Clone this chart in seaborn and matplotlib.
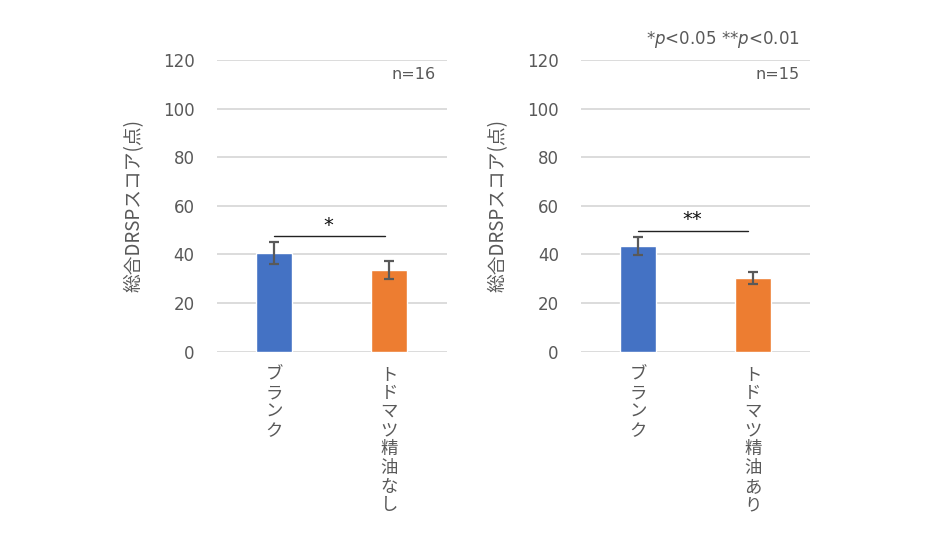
import matplotlib
matplotlib.use("Agg")
import matplotlib.pyplot as plt
import seaborn as sns
import pandas as pd

sns.set_theme(style="white")
plt.rcParams['font.family'] = ['Noto Sans CJK JP', 'DejaVu Sans']

categories_left = ["ブランク", "トドマツ精油なし"]
means_left = [40.5, 33.6]
err_left = [4.6, 3.8]
n_left = "n=16"

categories_right = ["ブランク", "トドマツ精油あり"]
means_right = [43.5, 30.3]
err_right = [3.7, 2.3]
n_right = "n=15"

sig_left = "*"
sig_right = "**"
sig_y_left = 47.6
sig_y_right = 49.8

colors = ["#4472C4", "#ED7D31"]
ylabel = "総合DRSPスコア(点)"
yticks = [0, 20, 40, 60, 80, 100, 120]
gray = "#595959"
num_font = ["DejaVu Sans"]

fig = plt.figure(figsize=(9.52, 5.33), dpi=100)
ax1 = fig.add_axes([0.2276, 0.3402, 0.2416, 0.5472])
ax2 = fig.add_axes([0.6103, 0.3402, 0.2405, 0.5472])


def draw(ax, cats, means, errs, ntext, sig, sig_y):
    df = pd.DataFrame({"cat": cats, "val": means})
    sns.barplot(data=df, x="cat", y="val", hue="cat", palette=colors,
                saturation=1, width=0.313, ax=ax, legend=False,
                errorbar=None, zorder=3)
    ax.errorbar(range(len(cats)), means, yerr=errs, fmt="none",
                ecolor=gray, elinewidth=1.6, capsize=3.6, capthick=1.6, zorder=4)
    ax.set_ylim(0, 120)
    ax.set_xlim(-0.5, 1.5)
    ax.set_yticks(yticks)
    ax.set_yticklabels([str(t) for t in yticks], fontsize=12, color=gray,
                       family=num_font)
    ax.grid(axis="y", color="#D9D9D9", linewidth=1.3, zorder=0)
    ax.set_axisbelow(True)
    for s in ax.spines.values():
        s.set_visible(False)
    ax.tick_params(axis="both", length=0)
    ax.tick_params(axis="y", pad=16)
    ax.set_xticks(range(len(cats)))
    ax.set_xticklabels(["\n".join(c) for c in cats], fontsize=12.5,
                       color=gray, linespacing=1.05, va="top")
    ax.tick_params(axis="x", pad=10)
    ax.set_xlabel("")
    ax.set_ylabel(ylabel, fontsize=13.5, color=gray, labelpad=13)
    ax.text(0.953, 0.95, ntext, transform=ax.transAxes, ha="right", va="center",
            fontsize=11.5, color=gray, family=num_font)
    ax.plot([0, 0.96], [sig_y, sig_y], color="#222222", linewidth=1.0, zorder=5)
    ax.text(0.47, sig_y + 4.5, sig, ha="center", va="center", fontsize=14,
            color="#111111", family=num_font)


draw(ax1, categories_left, means_left, err_left, n_left, sig_left, sig_y_left)
draw(ax2, categories_right, means_right, err_right, n_right, sig_right, sig_y_right)

ax2.text(0.956, 1.069, r"*$\it{p}$<0.05 **$\it{p}$<0.01", transform=ax2.transAxes,
         ha="right", va="center", fontsize=12, color=gray, family=num_font)

fig.savefig("out.png", dpi=100)
